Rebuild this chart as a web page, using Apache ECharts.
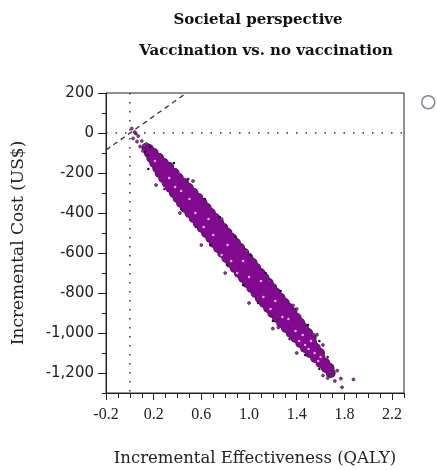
<!DOCTYPE html>
<html>
<head>
<meta charset="utf-8">
<script src="https://cdn.jsdelivr.net/npm/echarts@6/dist/echarts.min.js"></script>
<style>
html, body { margin: 0; padding: 0; background: #fff; }
#main { width: 437px; height: 470px; }
</style>
</head>
<body>
<div id="main"></div>
<script>
// tick labels
var costTicks = [200, 0, -200, -400, -600, -800, -1000, -1200];
var qalyTicks = [-0.2, 0.2, 0.6, 1.0, 1.4, 1.8, 2.2];

// dense cloud of simulations [QALY, US$]
var cloudPoints = [
	[0.14,-75],[0.16,-80],
	[0.16,-100],[0.20,-100],
	[0.18,-125],[0.215,-125],[0.245,-125],
	[0.205,-150],[0.245,-150],[0.285,-150],
	[0.23,-175],[0.27,-175],[0.31,-175],[0.33,-170],
	[0.25,-200],[0.295,-200],[0.335,-200],[0.375,-200],
	[0.28,-225],[0.325,-225],[0.37,-225],[0.41,-225],
	[0.31,-250],[0.36,-250],[0.41,-250],[0.455,-250],
	[0.34,-275],[0.395,-275],[0.445,-275],[0.495,-275],
	[0.37,-300],[0.425,-300],[0.48,-300],[0.535,-300],
	[0.40,-325],[0.46,-325],[0.515,-325],[0.575,-325],
	[0.43,-350],[0.49,-350],[0.55,-350],[0.61,-350],
	[0.465,-375],[0.525,-375],[0.585,-375],[0.645,-375],
	[0.50,-400],[0.56,-400],[0.62,-400],[0.68,-400],
	[0.535,-425],[0.595,-425],[0.655,-425],[0.715,-425],
	[0.57,-450],[0.63,-450],[0.69,-450],[0.75,-450],
	[0.605,-475],[0.665,-475],[0.725,-475],[0.785,-475],
	[0.64,-500],[0.70,-500],[0.76,-500],[0.82,-500],
	[0.675,-525],[0.735,-525],[0.795,-525],[0.855,-525],
	[0.705,-550],[0.765,-550],[0.825,-550],[0.89,-550],
	[0.74,-575],[0.80,-575],[0.86,-575],[0.925,-575],
	[0.775,-600],[0.835,-600],[0.895,-600],[0.96,-600],
	[0.81,-625],[0.87,-625],[0.93,-625],[0.995,-625],
	[0.845,-650],[0.905,-650],[0.965,-650],[1.03,-650],
	[0.88,-675],[0.94,-675],[1.00,-675],[1.06,-675],
	[0.915,-700],[0.975,-700],[1.035,-700],[1.095,-700],
	[0.95,-725],[1.01,-725],[1.07,-725],[1.13,-725],
	[0.985,-750],[1.045,-750],[1.105,-750],[1.165,-750],
	[1.02,-775],[1.08,-775],[1.14,-775],[1.195,-775],
	[1.055,-800],[1.115,-800],[1.17,-800],[1.23,-800],
	[1.09,-825],[1.15,-825],[1.205,-825],[1.265,-825],
	[1.125,-850],[1.185,-850],[1.24,-850],[1.30,-850],
	[1.16,-875],[1.22,-875],[1.275,-875],[1.335,-875],
	[1.195,-900],[1.255,-900],[1.31,-900],[1.365,-900],
	[1.235,-925],[1.29,-925],[1.345,-925],[1.40,-925],
	[1.27,-950],[1.325,-950],[1.38,-950],[1.43,-950],
	[1.31,-975],[1.36,-975],[1.41,-975],[1.46,-975],
	[1.35,-1000],[1.40,-1000],[1.45,-1000],[1.495,-1000],
	[1.39,-1025],[1.44,-1025],[1.49,-1025],[1.525,-1025],
	[1.43,-1050],[1.48,-1050],[1.53,-1050],
	[1.47,-1075],[1.515,-1075],[1.56,-1075],
	[1.51,-1100],[1.555,-1100],[1.595,-1100],
	[1.555,-1125],[1.60,-1125],
	[1.60,-1150],[1.64,-1150],
	[1.645,-1175],[1.675,-1175],
	[1.685,-1200]
];

// lighter simulations inside the cloud
var lightPoints = [
	[0.21,-140],[0.33,-225],[0.43,-290],[0.50,-330],[0.55,-400],[0.66,-430],
	[0.70,-510],[0.82,-560],[0.85,-640],[0.95,-640],[1.00,-720],[1.10,-740],
	[1.12,-820],[1.22,-840],[1.28,-920],[1.33,-930],[1.39,-990],[1.45,-1010],
	[1.47,-1060],[1.52,-1040],[1.55,-1100],[1.60,-1120],[0.38,-270],[0.62,-470],
	[0.77,-610],[0.90,-700],[1.18,-880],[1.42,-1040],[1.50,-1080],[1.58,-1140]
];

// dark simulations along the edges of the cloud
var edgePoints = [
	[0.37,-150],[0.49,-230],[0.63,-330],[0.755,-420],[0.89,-520],[1.015,-610],
	[1.14,-700],[1.265,-790],[1.39,-880],[1.495,-960],[1.59,-1040],[1.66,-1120],
	[0.155,-180],[0.29,-280],[0.43,-380],[0.555,-470],[0.675,-560],[0.815,-660],
	[0.95,-760],[1.075,-850],[1.20,-940],[1.34,-1030],[1.47,-1110],[1.59,-1180],
	[0.13,-95],[0.15,-110],[0.17,-70]
];

// scattered simulations around the cloud
var loosePoints = [
	[0.016,22],[0.05,-2],[0.027,-27],[0.06,-43],[0.086,-68],[0.10,-40],
	[0.07,-15],[0.12,-62],[0.11,-90],[0.04,5],[0.14,-55],
	[0.53,-240],[0.77,-430],[0.98,-590],[1.17,-740],[1.37,-862],[1.40,-880],
	[1.54,-1008],[1.57,-1009],[1.62,-1060],
	[0.22,-260],[0.42,-400],[0.60,-560],[0.80,-700],[1.00,-850],[1.20,-978],
	[1.245,-972],[1.40,-1100],
	[1.62,-1212],[1.68,-1196],[1.74,-1188],[1.77,-1228],[1.876,-1232],
	[1.78,-1271],[1.72,-1240],[1.66,-1225]
];

// reference lines
var zeroCostLine = [[-0.2, 0], [2.3, 0]];
var zeroQalyLine = [[0, 200], [0, -1300]];
var wtpLine = [[-0.2, -85], [0.475, 200]];

var myChart = echarts.init(document.getElementById('main'));
var axisColor = '#222';

var option = {
	animation: false,
	backgroundColor: '#fff',
	title: [{
		text: 'Societal perspective',
		left: 253, top: 8, textAlign: 'center',
		textStyle: { fontFamily: 'DejaVu Serif', fontWeight: 'bold', fontSize: 15, color: '#111' }
	}, {
		text: 'Vaccination vs. no vaccination',
		left: 261, top: 39, textAlign: 'center',
		textStyle: { fontFamily: 'DejaVu Serif', fontWeight: 'bold', fontSize: 15, color: '#111' }
	}],
	legend: {
		data: [{ name: 'Simulations', icon: 'circle' }],
		left: 416, top: 90,
		itemWidth: 13, itemHeight: 13,
		itemStyle: { color: '#fff', borderColor: '#8f7fa0', borderWidth: 1.5 },
		formatter: function () { return ''; }
	},
	grid: {
		left: 106, right: 33, top: 93, bottom: 77,
		show: true, borderColor: axisColor, borderWidth: 1,
		containLabel: false, outerBoundsMode: 'none'
	},
	xAxis: [{
		type: 'value', min: -0.2, max: 2.3, position: 'bottom',
		name: 'Incremental Effectiveness (QALY)',
		nameLocation: 'middle', nameGap: 57,
		nameTextStyle: { fontFamily: 'DejaVu Serif', fontSize: 16.5, color: '#222' },
		axisLine: { show: true, onZero: false, lineStyle: { color: axisColor, width: 1 } },
		axisTick: { show: true, customValues: qalyTicks, length: 7, lineStyle: { color: axisColor } },
		axisLabel: {
			customValues: qalyTicks, margin: 14,
			fontFamily: 'Liberation Serif', fontSize: 16, color: '#222',
			formatter: function (v) { return v.toFixed(1); }
		},
		splitLine: { show: false }
	}, {
		type: 'value', min: -0.2, max: 2.3, interval: 0.1, position: 'bottom',
		axisLine: { show: false, onZero: false },
		axisTick: { show: true, length: 5, lineStyle: { color: axisColor } },
		axisLabel: { show: false },
		splitLine: { show: false }
	}],
	yAxis: [{
		type: 'value', min: -1300, max: 200, position: 'left',
		name: 'Incremental Cost (US$)',
		nameLocation: 'middle', nameGap: 79,
		nameTextStyle: { fontFamily: 'DejaVu Serif', fontSize: 17, color: '#222' },
		axisLine: { show: true, onZero: false, lineStyle: { color: axisColor, width: 1 } },
		axisTick: { show: true, customValues: costTicks, length: 8, lineStyle: { color: axisColor } },
		axisLabel: {
			customValues: costTicks, margin: 12,
			fontFamily: 'DejaVu Sans', fontSize: 15, color: '#222',
			formatter: function (v) { return v.toLocaleString('en-US'); }
		},
		splitLine: { show: false }
	}, {
		type: 'value', min: -1300, max: 200, interval: 100, position: 'left',
		axisLine: { show: false, onZero: false },
		axisTick: { show: true, length: 4, lineStyle: { color: axisColor } },
		axisLabel: { show: false },
		splitLine: { show: false }
	}],
	series: [{
		name: 'zero cost', type: 'line', data: zeroCostLine,
		symbol: 'none', silent: true,
		lineStyle: { color: '#333', width: 1.5, type: [1.5, 8] }
	}, {
		name: 'zero effect', type: 'line', data: zeroQalyLine,
		symbol: 'none', silent: true,
		lineStyle: { color: '#333', width: 1.5, type: [1.5, 7.5] }
	}, {
		name: 'threshold', type: 'line', data: wtpLine,
		symbol: 'none', silent: true,
		lineStyle: { color: '#333', width: 1.3, type: [5, 4] }
	}, {
		name: 'outline', type: 'scatter', data: cloudPoints,
		symbolSize: 10, silent: true,
		itemStyle: { color: '#3a1442', opacity: 1 }
	}, {
		name: 'Simulations', type: 'scatter', data: cloudPoints,
		symbolSize: 8.8,
		itemStyle: { color: '#820a8e', opacity: 1 }
	}, {
		name: 'light', type: 'scatter', data: lightPoints,
		symbolSize: 2.5,
		itemStyle: { color: '#e2b3ea', opacity: 1 }
	}, {
		name: 'edge', type: 'scatter', data: edgePoints,
		symbolSize: 2.5,
		itemStyle: { color: '#2a0f2e', opacity: 1 }
	}, {
		name: 'loose', type: 'scatter', data: loosePoints,
		symbolSize: 3,
		itemStyle: { color: '#9a3aa6', borderColor: '#2e1034', borderWidth: 0.6, opacity: 1 }
	}]
};

myChart.setOption(option);
</script>
</body>
</html>
